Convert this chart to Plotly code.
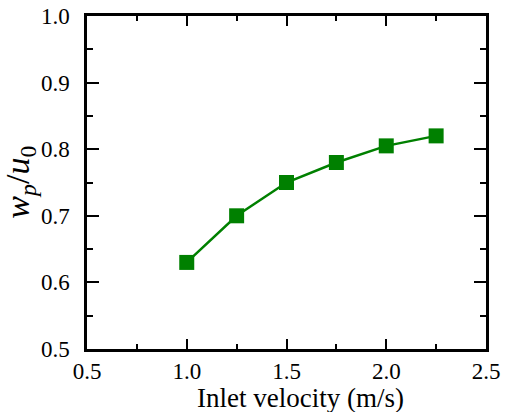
import plotly.graph_objects as go

# Inlet velocity (m/s) and normalized particle velocity w_p/u_0
inlet_velocity = [1.0, 1.25, 1.5, 1.75, 2.0, 2.25]
wp_over_u0 = [0.63, 0.70, 0.75, 0.78, 0.805, 0.82]

x_ticks = [0.5, 1.0, 1.5, 2.0, 2.5]
y_ticks = [0.5, 0.6, 0.7, 0.8, 0.9, 1.0]

x_title = "Inlet velocity (m/s)"
y_title = "<i>w<sub>p</sub></i>/<i>u</i><sub>0</sub>"

serif = "Liberation Serif"
green = "#008000"

fig = go.Figure(
    go.Scatter(
        x=inlet_velocity,
        y=wp_over_u0,
        mode="lines+markers",
        line=dict(color=green, width=2.5),
        marker=dict(symbol="square", size=15, color=green),
        showlegend=False,
    )
)

axis_common = dict(
    showline=True,
    linecolor="black",
    linewidth=2.5,
    mirror="ticks",
    ticks="inside",
    tickcolor="black",
    tickwidth=2,
    showgrid=False,
    zeroline=False,
    automargin=False,
    tickfont=dict(family=serif, size=23, color="black"),
)

fig.update_xaxes(
    **axis_common,
    range=[0.5, 2.5],
    tickvals=x_ticks,
    ticktext=[f"{v:.1f}" for v in x_ticks],
    ticklen=10,
    ticklabelstandoff=0,
    minor=dict(ticks="inside", ticklen=5, tickwidth=2, tickcolor="black", dtick=0.25, tick0=0.5),
)
fig.update_yaxes(
    **axis_common,
    range=[0.5, 1.0],
    tickvals=y_ticks,
    ticktext=[f"{v:.1f}" for v in y_ticks],
    ticklen=12,
    ticklabelstandoff=10,
    minor=dict(ticks="inside", ticklen=6, tickwidth=2, tickcolor="black", dtick=0.05, tick0=0.5),
)

# Axis titles placed as paper-anchored annotations
fig.add_annotation(
    text=x_title, xref="paper", yref="paper", x=0.535, y=-0.147,
    xanchor="center", yanchor="middle", showarrow=False,
    font=dict(family=serif, size=27, color="black"),
)
fig.add_annotation(
    text=y_title, xref="paper", yref="paper", x=-0.17, y=0.5,
    xanchor="center", yanchor="middle", textangle=-90, showarrow=False,
    font=dict(family=serif, size=34, color="black"),
)

fig.update_layout(
    width=508,
    height=412,
    margin=dict(l=87, r=22, t=16, b=63),
    paper_bgcolor="white",
    plot_bgcolor="white",
)

fig.write_html("out.html")
